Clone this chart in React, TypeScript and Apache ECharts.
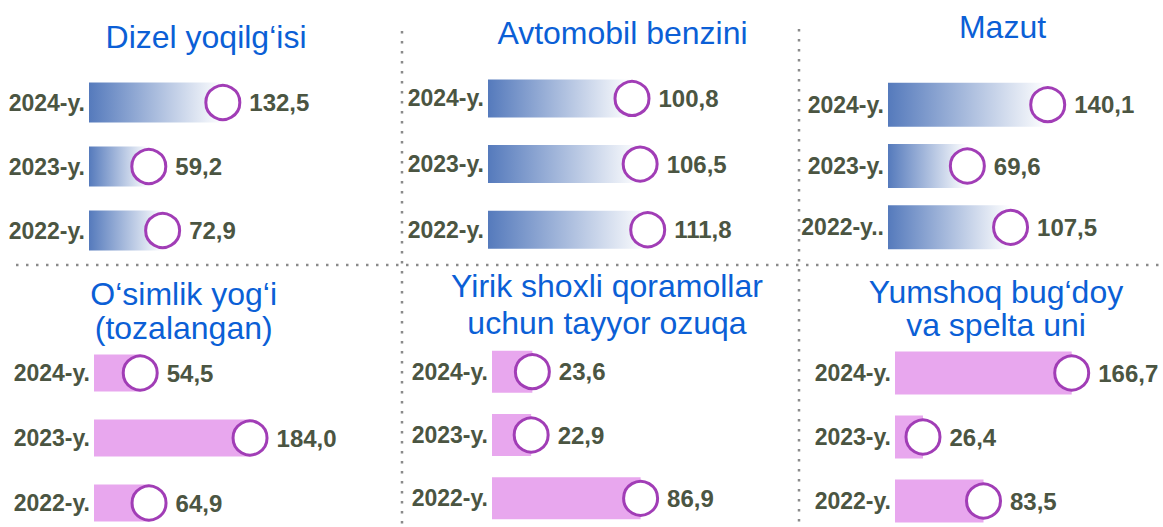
import React, { useEffect, useRef } from "react";
import * as echarts from "echarts";

// ---- data ----
const years = ["2024-y.", "2023-y.", "2022-y."];
const mazutYears = ["2024-y.", "2023-y.", "2022-y.."];
const titles = [
  "Dizel yoqilg‘isi",
  "Avtomobil benzini",
  "Mazut",
  "O‘simlik yog‘i\n(tozalangan)",
  "Yirik shoxli qoramollar\nuchun tayyor ozuqa",
  "Yumshoq bug‘doy\nva spelta uni",
];
const dizel = [132.5, 59.2, 72.9];
const benzin = [100.8, 106.5, 111.8];
const mazut = [140.1, 69.6, 107.5];
const osimlik = [54.5, 184.0, 64.9];
const ozuqa = [23.6, 22.9, 86.9];
const un = [166.7, 26.4, 83.5];

const seriesData = [dizel, benzin, mazut, osimlik, ozuqa, un];
const categorySets = [years, years, mazutYears, years, years, years];

// ---- layout ----
const panels = [
  { left: 89, top: 70.5, width: 202, height: 192, max: 200, bw: 40, blue: true, tx: 206, ty: 36.5, lh: 36 },
  { left: 488, top: 65.6, width: 200, height: 197, max: 140, bw: 38, blue: true, tx: 622.5, ty: 33, lh: 36 },
  { left: 888, top: 74, width: 228, height: 184, max: 200, bw: 44, blue: true, tx: 1002.5, ty: 26.5, lh: 36 },
  { left: 94, top: 340.5, width: 212, height: 195, max: 250, bw: 37, blue: false, tx: 183.7, ty: 311, lh: 34 },
  { left: 492, top: 340, width: 171, height: 190, max: 100, bw: 42, blue: false, tx: 607, ty: 304.3, lh: 37 },
  { left: 895, top: 341, width: 212, height: 192, max: 200, bw: 43, blue: false, tx: 996, ty: 308, lh: 33 },
];

const SANS = "'Liberation Sans', Arial, sans-serif";
const LABEL_COLOR = "#4b5542";
const TITLE_COLOR = "#0b5fd6";
const PINK = "#e8a7ee";
const RING = "#a13db6";

const fmt = (v: number) => v.toFixed(1).replace(".", ",");

export default function App() {
  const ref = useRef<HTMLDivElement>(null);
  useEffect(() => {
    if (!ref.current) return;
    const chart = echarts.init(ref.current, undefined, { renderer: "svg" });
    const blueGrad = new echarts.graphic.LinearGradient(0, 0, 1, 0, [
      { offset: 0, color: "#557abc" },
      { offset: 1, color: "#ffffff" },
    ]);
    const grid = panels.map((p) => ({
      left: p.left,
      top: p.top,
      width: p.width,
      height: p.height,
      outerBoundsMode: "none",
    }));
    const xAxis = panels.map((p, i) => ({
      type: "value",
      gridIndex: i,
      min: 0,
      max: p.max,
      show: false,
    }));
    const yAxis = panels.map((p, i) => ({
      type: "category",
      gridIndex: i,
      data: categorySets[i],
      inverse: true,
      axisLine: { show: false },
      axisTick: { show: false },
      splitLine: { show: false },
      axisLabel: {
        margin: 4,
        fontSize: 23,
        fontWeight: "bold",
        fontFamily: SANS,
        color: LABEL_COLOR,
      },
    }));
    const series: any[] = [];
    panels.forEach((p, i) => {
      const vals = seriesData[i];
      series.push({
        type: "bar",
        xAxisIndex: i,
        yAxisIndex: i,
        data: vals,
        barWidth: p.bw,
        itemStyle: { color: p.blue ? blueGrad : PINK },
        silent: true,
      });
      series.push({
        type: "scatter",
        xAxisIndex: i,
        yAxisIndex: i,
        data: vals.map((v, k) => [v, k]),
        symbol: "circle",
        symbolSize: 34,
        z: 5,
        itemStyle: { color: "#ffffff", borderColor: RING, borderWidth: 3, opacity: 1 },
        label: {
          show: true,
          position: "right",
          distance: 8,
          formatter: (prm: any) => fmt(prm.value[0]),
          fontSize: 24,
          fontWeight: "bold",
          fontFamily: SANS,
          color: LABEL_COLOR,
          opacity: 1,
        },
        silent: true,
      });
    });
    const dot = { stroke: "#8a8a8a", lineWidth: 2.5, lineDash: [2.5, 7.5] };
    const graphic: any[] = [
      { type: "line", shape: { x1: 16, y1: 265, x2: 1163, y2: 265 }, style: dot, silent: true },
      { type: "line", shape: { x1: 402, y1: 31, x2: 402, y2: 527 }, style: dot, silent: true },
      { type: "line", shape: { x1: 799, y1: 29, x2: 799, y2: 527 }, style: dot, silent: true },
    ];
    panels.forEach((p, i) => {
      graphic.push({
        type: "text",
        x: p.tx,
        y: p.ty,
        style: {
          text: titles[i],
          fill: TITLE_COLOR,
          fontSize: 32,
          fontFamily: SANS,
          align: "center",
          verticalAlign: "middle",
          lineHeight: p.lh,
        },
        silent: true,
      });
    });
    chart.setOption({
      animation: false,
      backgroundColor: "#ffffff",
      grid,
      xAxis,
      yAxis,
      series,
      graphic,
    });
    return () => chart.dispose();
  }, []);
  return (
    <div
      ref={ref}
      style={{ position: "fixed", left: 0, top: 0, width: 1163, height: 527 }}
    />
  );
}
